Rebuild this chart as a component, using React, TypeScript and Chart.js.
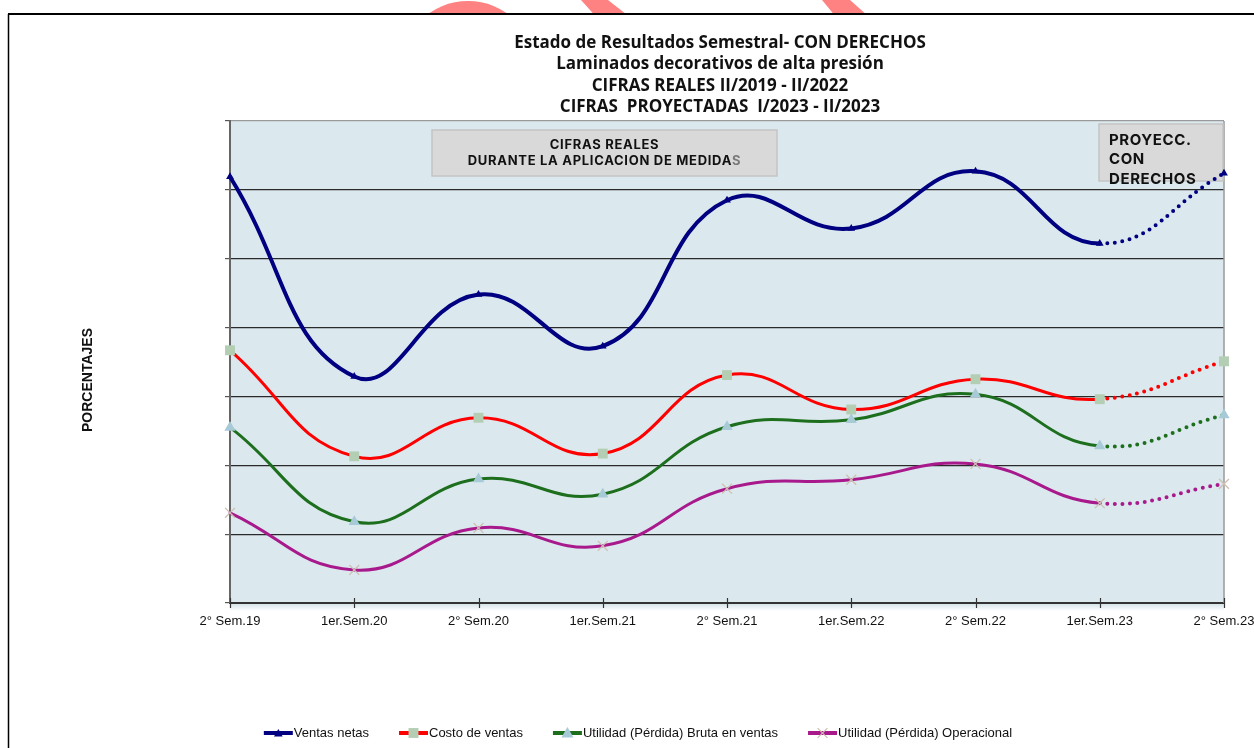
import { useEffect, useRef } from "react";
import { Chart, registerables } from "chart.js";

Chart.register(...registerables);

const categories = [
  "2° Sem.19",
  "1er.Sem.20",
  "2° Sem.20",
  "1er.Sem.21",
  "2° Sem.21",
  "1er.Sem.22",
  "2° Sem.22",
  "1er.Sem.23",
  "2° Sem.23",
];
const ventasNetas = [61.9, 32.9, 44.8, 37.3, 58.5, 54.4, 62.7, 52.2, 62.4];
const costoVentas = [36.7, 21.3, 26.9, 21.7, 33.1, 28.1, 32.5, 29.6, 35.1];
const utilidadBruta = [25.5, 11.8, 18.0, 15.8, 25.6, 26.6, 30.3, 22.8, 27.3];
const utilidadOperacional = [13.1, 4.8, 10.9, 8.3, 16.6, 17.9, 20.2, 14.5, 17.3];

const seriesNames = [
  "Ventas netas",
  "Costo de ventas",
  "Utilidad (Pérdida) Bruta en ventas",
  "Utilidad (Pérdida) Operacional",
];
const titleLines = [
  "Estado de Resultados Semestral- CON DERECHOS",
  "Laminados decorativos de alta presión",
  "CIFRAS REALES II/2019 - II/2022",
  "CIFRAS  PROYECTADAS  I/2023 - II/2023",
];
const yAxisTitle = "PORCENTAJES";
const boxRealesLines = ["CIFRAS REALES", "DURANTE LA APLICACION DE MEDIDAS"];
const boxProyLines = ["PROYECC.", "CON", "DERECHOS"];
const yMin = 0;
const yMax = 70;
const yStep = 10;
const projectionStart = 7;

const lineColors = ["#000080", "#ff0000", "#1d6f1d", "#a8198c"];
const markerColors = ["#000080", "#b4ceb4", "#a7cad7", "#cdbfb2"];
const markerStyles = ["triangle", "rect", "triangle", "crossRot"];

function drawMarker(ctx: CanvasRenderingContext2D, style: string, x: number, y: number, r: number, color: string) {
  ctx.save();
  ctx.fillStyle = color;
  ctx.strokeStyle = color;
  ctx.lineWidth = 1.2;
  ctx.beginPath();
  if (style === "rect") {
    const s = r * Math.SQRT1_2;
    ctx.rect(x - s, y - s, 2 * s, 2 * s);
    ctx.fill();
  } else if (style === "triangle") {
    ctx.moveTo(x, y - r);
    ctx.lineTo(x + r * 0.866, y + r * 0.5);
    ctx.lineTo(x - r * 0.866, y + r * 0.5);
    ctx.closePath();
    ctx.fill();
  } else {
    const s = r * Math.SQRT1_2;
    ctx.moveTo(x - s, y - s);
    ctx.lineTo(x + s, y + s);
    ctx.moveTo(x + s, y - s);
    ctx.lineTo(x - s, y + s);
    ctx.stroke();
  }
  ctx.restore();
}

const decorPlugin = {
  id: "decor",
  beforeDraw(chart: any) {
    const { ctx, chartArea } = chart;
    ctx.save();
    ctx.fillStyle = "#ffffff";
    ctx.fillRect(0, 0, chart.width, chart.height);
    ctx.fillStyle = "#dbe9ef";
    ctx.fillRect(chartArea.left, chartArea.top, chartArea.right - chartArea.left, chartArea.bottom - chartArea.top);
    const g = ctx.createLinearGradient(0, chartArea.bottom, 0, chartArea.bottom + 8);
    g.addColorStop(0, "rgba(170,200,212,0.55)");
    g.addColorStop(1, "rgba(170,200,212,0)");
    ctx.fillStyle = g;
    ctx.fillRect(chartArea.left, chartArea.bottom, chartArea.right - chartArea.left, 8);
    ctx.restore();
  },
  beforeDatasetsDraw(chart: any) {
    const { ctx, chartArea } = chart;
    ctx.save();
    ctx.strokeStyle = "#9a9a9a";
    ctx.lineWidth = 1.5;
    ctx.beginPath();
    ctx.moveTo(chartArea.right, chartArea.top);
    ctx.lineTo(chartArea.right, chartArea.bottom);
    ctx.stroke();
    ctx.fillStyle = "#d9d9d9";
    ctx.strokeStyle = "#c4c4c4";
    ctx.lineWidth = 1.5;
    ctx.fillRect(432, 130, 345, 46);
    ctx.strokeRect(432, 130, 345, 46);
    ctx.fillRect(1099, 124, 124, 57);
    ctx.strokeRect(1099, 124, 124, 57);
    ctx.restore();
  },
  afterDraw(chart: any) {
    const { ctx, chartArea } = chart;
    const xScale = chart.scales.x;
    ctx.save();

    ctx.strokeStyle = "#333";
    ctx.lineWidth = 1.2;
    for (let i = 0; i < categories.length; i++) {
      const px = Math.round(xScale.getPixelForValue(i)) + 0.5;
      ctx.beginPath();
      ctx.moveTo(px, chartArea.bottom - 5);
      ctx.lineTo(px, chartArea.bottom + 5);
      ctx.stroke();
    }

    // title
    ctx.fillStyle = "#111";
    ctx.textAlign = "center";
    ctx.textBaseline = "middle";
    ctx.font = 'bold 17px "Open Sans", "Liberation Sans", sans-serif';
    const titleY = [43, 64.5, 86, 107.5];
    titleLines.forEach((t, i) => ctx.fillText(t, 720, titleY[i]));

    // box texts
    ctx.font = 'bold 13px Inter, "Open Sans", sans-serif';
    (ctx as any).letterSpacing = "0.7px";
    ctx.fillStyle = "#111";
    ctx.fillText(boxRealesLines[0], 604.5, 145);
    const l2 = boxRealesLines[1];
    const head = l2.slice(0, -1);
    const tail = l2.slice(-1);
    const wHead = ctx.measureText(head).width;
    const wTail = ctx.measureText(tail).width;
    const startX = 604.5 - (wHead + wTail) / 2;
    ctx.textAlign = "left";
    ctx.fillText(head, startX, 161.5);
    ctx.fillStyle = "#7a7a7a";
    ctx.fillText(tail, startX + wHead, 161.5);

    ctx.fillStyle = "#111";
    ctx.font = 'bold 15px Inter, "Open Sans", sans-serif';
    (ctx as any).letterSpacing = "0.6px";
    boxProyLines.forEach((t, i) => ctx.fillText(t, 1109, 140 + i * 19.5));
    (ctx as any).letterSpacing = "0px";

    // y axis title
    ctx.save();
    ctx.translate(88, 380);
    ctx.rotate(-Math.PI / 2);
    ctx.textAlign = "center";
    ctx.font = 'bold 14px "Liberation Sans", Arial, sans-serif';
    ctx.fillStyle = "#111";
    ctx.fillText(yAxisTitle, 0, 0);
    ctx.restore();

    // legend
    ctx.font = '13px "Liberation Sans", Arial, sans-serif';
    ctx.textAlign = "left";
    ctx.textBaseline = "middle";
    const sampleW = 29;
    const gap = 31;
    const widths = seriesNames.map((n) => ctx.measureText(n).width);
    const total = widths.reduce((a, b) => a + b, 0) + seriesNames.length * sampleW + (seriesNames.length - 1) * gap;
    let lx = 637.5 - total / 2;
    const ly = 733;
    seriesNames.forEach((n, i) => {
      ctx.strokeStyle = lineColors[i];
      ctx.lineWidth = 4;
      ctx.lineCap = "butt";
      ctx.beginPath();
      ctx.moveTo(lx, ly);
      ctx.lineTo(lx + sampleW, ly);
      ctx.stroke();
      const r = i === 0 ? 5 : 7;
      drawMarker(ctx, markerStyles[i], lx + sampleW / 2, ly + (markerStyles[i] === "triangle" ? 1 : 0), r, markerColors[i]);
      ctx.fillStyle = "#111";
      ctx.fillText(n, lx + sampleW + 1, ly);
      lx += sampleW + widths[i] + gap;
    });

    // page frame
    ctx.strokeStyle = "#000";
    ctx.lineWidth = 2;
    ctx.beginPath();
    ctx.moveTo(8, 14);
    ctx.lineTo(chart.width, 14);
    ctx.stroke();
    ctx.lineWidth = 1.5;
    ctx.beginPath();
    ctx.moveTo(8.5, 14);
    ctx.lineTo(8.5, chart.height);
    ctx.stroke();

    // watermark fragments above the frame
    ctx.save();
    ctx.beginPath();
    ctx.rect(0, 0, chart.width, 13);
    ctx.clip();
    ctx.fillStyle = "#ff8282";
    ctx.beginPath();
    ctx.arc(468, 69, 68, 0, Math.PI * 2);
    ctx.fill();
    ctx.beginPath();
    ctx.moveTo(581, 0);
    ctx.lineTo(608, 0);
    ctx.lineTo(625, 13.3);
    ctx.lineTo(593, 13.3);
    ctx.closePath();
    ctx.fill();
    ctx.beginPath();
    ctx.moveTo(822, 0);
    ctx.lineTo(850, 0);
    ctx.lineTo(865, 13.3);
    ctx.lineTo(833, 13.3);
    ctx.closePath();
    ctx.fill();
    ctx.restore();

    ctx.restore();
  },
};

export default function App() {
  const canvasRef = useRef<HTMLCanvasElement | null>(null);

  useEffect(() => {
    const canvas = canvasRef.current;
    if (!canvas) return;
    const seriesData = [ventasNetas, costoVentas, utilidadBruta, utilidadOperacional];
    const widths = [4, 3, 3, 3];
    const radii = [4.5, 7, 6.5, 7];
    const datasets = seriesData.map((d, i) => ({
      label: seriesNames[i],
      data: d,
      borderColor: lineColors[i],
      borderWidth: widths[i],
      backgroundColor: markerColors[i],
      pointBackgroundColor: markerColors[i],
      pointBorderColor: markerColors[i],
      pointBorderWidth: markerStyles[i] === "crossRot" ? 1.3 : 0,
      pointStyle: markerStyles[i],
      pointRadius: radii[i],
      pointHoverRadius: radii[i],
      tension: 0.45,
      fill: false,
      borderCapStyle: "round",
      segment: {
        borderDash: (c: any) => (c.p0DataIndex >= projectionStart ? [0, 7.5] : undefined),
        borderWidth: (c: any) => (c.p0DataIndex >= projectionStart ? 4 : undefined),
      },
    }));

    const chart = new Chart(canvas, {
      type: "line",
      data: { labels: categories, datasets: datasets as any },
      plugins: [decorPlugin],
      options: {
        animation: false,
        responsive: false,
        devicePixelRatio: 1,
        events: [],
        layout: { padding: { left: 225, right: 30, top: 121, bottom: 105 } },
        plugins: {
          legend: { display: false },
          title: { display: false },
          tooltip: { enabled: false },
        },
        scales: {
          x: {
            type: "category",
            offset: false,
            grid: { display: false, drawTicks: false },
            border: { display: true, color: "#333", width: 2 },
            ticks: {
              color: "#111",
              font: { family: '"Liberation Sans", Arial, sans-serif', size: 13 },
              padding: 11,
              maxRotation: 0,
              autoSkip: false,
            },
            afterFit: (s: any) => {
              s.height = 40;
              s.paddingLeft = 0;
              s.paddingRight = 0;
            },
          },
          y: {
            min: yMin,
            max: yMax,
            ticks: { display: false, stepSize: yStep },
            grid: {
              color: (c: any) => (c.tick && c.tick.value === yMax ? "#9a9a9a" : "#2a2a2a"),
              lineWidth: 1.2,
              drawTicks: true,
              tickLength: 5,
              tickColor: "#555",
            },
            border: { display: true, color: "#666", width: 2 },
            afterFit: (s: any) => {
              s.width = 5;
              s.paddingTop = 0;
              s.paddingBottom = 0;
            },
          },
        },
      },
    });
    return () => chart.destroy();
  }, []);

  return (
    <div style={{ position: "absolute", left: 0, top: 0, width: 1254, height: 748, background: "#fff" }}>
      <canvas ref={canvasRef} width={1254} height={748} style={{ display: "block" }} />
    </div>
  );
}
